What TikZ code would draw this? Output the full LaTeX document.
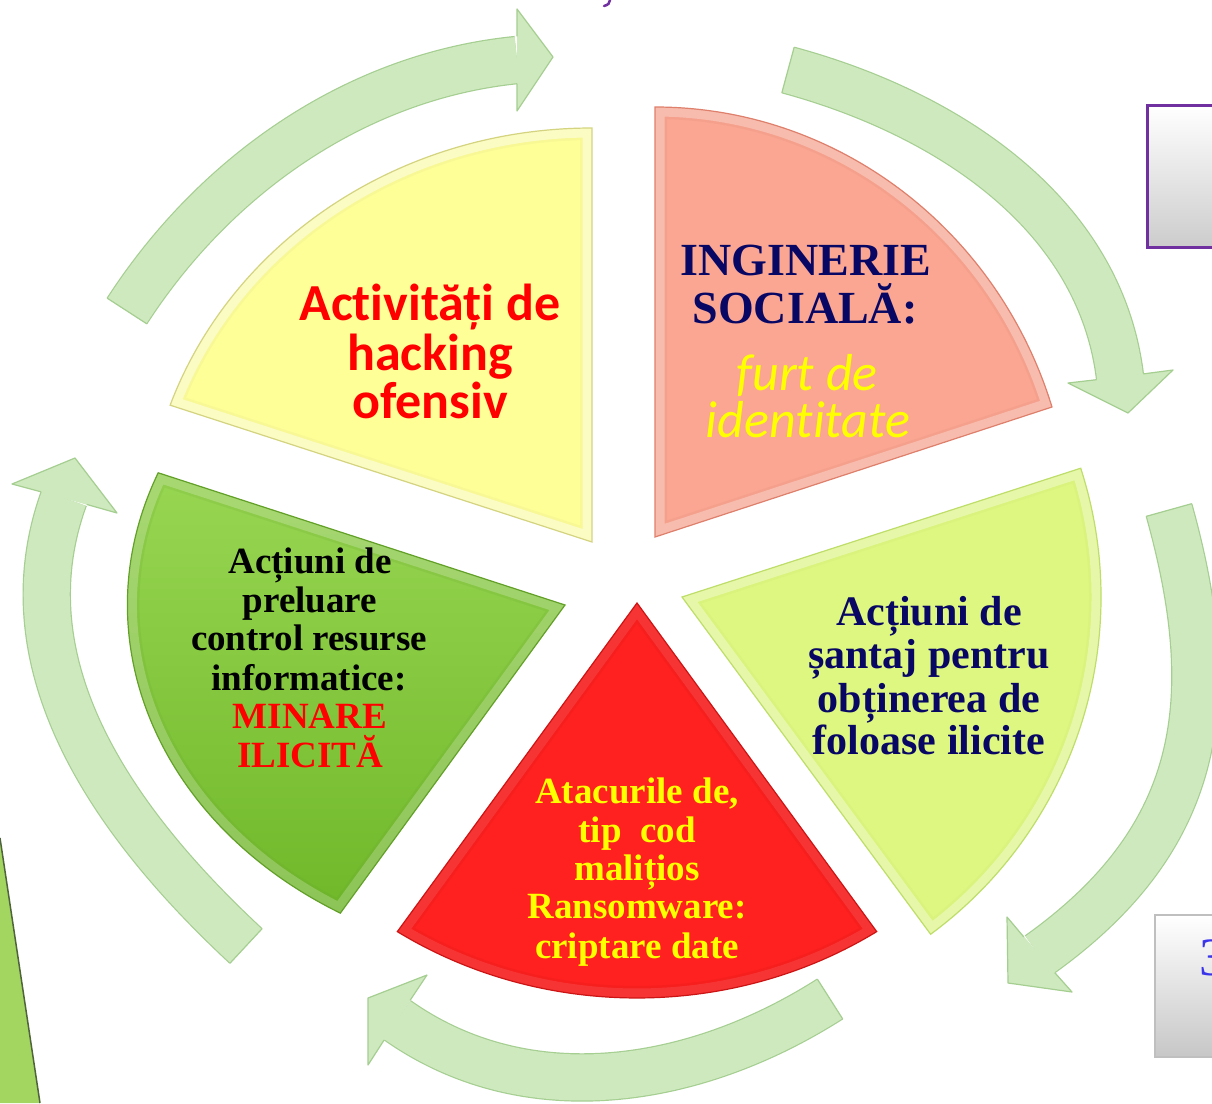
\documentclass[tikz,border=0pt]{standalone}
\usepackage{fontspec}
\usetikzlibrary{calc}
\newfontfamily\carl[Ligatures=NoCommon]{Carlito}
\newfontfamily\tnr{Liberation Serif}
\definecolor{arrfill}{RGB}{206,233,190}
\definecolor{arredge}{RGB}{165,206,145}
\definecolor{wyel}{RGB}{255,255,152}
\definecolor{wyelB}{RGB}{212,212,128}
\definecolor{wpink}{RGB}{250,166,146}
\definecolor{wpinkB}{RGB}{222,128,108}
\definecolor{wlime}{RGB}{222,247,128}
\definecolor{wlimeB}{RGB}{190,222,105}
\definecolor{wred}{RGB}{255,32,32}
\definecolor{wredB}{RGB}{205,20,20}
\definecolor{wgreenT}{RGB}{152,214,82}
\definecolor{wgreenB}{RGB}{112,184,42}
\definecolor{wgreenE}{RGB}{98,160,40}
\definecolor{navytxt}{RGB}{8,8,100}
\definecolor{redtxt}{RGB}{255,0,0}
\definecolor{yeltxt}{RGB}{255,255,0}
\definecolor{boxpurple}{RGB}{112,48,160}
\definecolor{digitblue}{RGB}{58,52,235}
\definecolor{sliver}{RGB}{162,214,96}
\definecolor{sliverE}{RGB}{80,100,60}
% #1 fill options, #2 border colour, #3 rim opacity, #4 path
\newcommand\drawwedge[4]{%
  \begin{scope}
    \clip #4;
    \path[#1] #4;
    \draw[#2, opacity=0.15, line width=24] #4;
    \draw[white, opacity=#3, line width=19] #4;
  \end{scope}
  \draw[#2, line width=1.2] #4;}
\newcommand\fYel{\carl\bfseries\fontsize{52}{52}\selectfont}
\newcommand\fSoc{\tnr\bfseries\fontsize{46}{46}\selectfont}
\newcommand\fFurt{\carl\itshape\fontsize{52}{52}\selectfont}
\newcommand\fRight{\tnr\bfseries\fontsize{42}{42}\selectfont}
\newcommand\fSmall{\tnr\bfseries\fontsize{37}{37}\selectfont}
\begin{document}
\begin{tikzpicture}[x=1pt,y=1pt,
  arrowband/.style={draw=arredge, line width=1.2, double=arrfill, double distance=46},
  headline/.style={draw=arredge, line width=1.2, line join=round},
  txt/.style={anchor=base, inner sep=0, outer sep=0}]
\useasboundingbox (0,0) rectangle (1212,-1103);
\clip (0,0) rectangle (1212,-1103);
\fill[white] (0,0) rectangle (1212,-1103);

% ---------- circular arrows ----------
% arrow 1 (top left, pointing right)
\coordinate (a1s) at (127,-311);
\coordinate (a1b) at (517,-60);
\coordinate (a1p) at (517,-9);
\coordinate (a1q) at (517,-111);
\coordinate (a1t) at (553,-57);
\draw[arrowband] (a1s) .. controls (215,-175) and (356,-76) .. (a1b);
\fill[arrfill] (a1p) -- (a1t) -- (a1q) -- cycle;
\draw[headline] ($(a1b)!23.6pt!(a1p)$) -- (a1p) -- (a1t) -- (a1q) -- ($(a1b)!23.6pt!(a1q)$);
\draw[headline] ($(a1s)!23.6pt!90:(215,-175)$) -- ($(a1s)!23.6pt!-90:(215,-175)$);
% arrow 2 (top right, pointing down)
\coordinate (a2s) at (788,-70);
\coordinate (a2b) at (1120,-377);
\coordinate (a2p) at (1068,-383);
\coordinate (a2q) at (1173,-370);
\coordinate (a2t) at (1128,-413);
\draw[arrowband] (a2s) .. controls (947,-113) and (1100,-213) .. (a2b);
\fill[arrfill] (a2p) -- (a2t) -- (a2q) -- cycle;
\draw[headline] ($(a2b)!23.6pt!(a2p)$) -- (a2p) -- (a2t) -- (a2q) -- ($(a2b)!23.6pt!(a2q)$);
\draw[headline] ($(a2s)!23.6pt!90:(947,-113)$) -- ($(a2s)!23.6pt!-90:(947,-113)$);
% arrow 3 (right, pointing down-left)
\coordinate (a3s) at (1169,-510);
\coordinate (a3b) at (1039,-955);
\coordinate (a3p) at (1007,-917);
\coordinate (a3q) at (1072,-992);
\coordinate (a3t) at (1008,-983);
\draw[arrowband] (a3s) .. controls (1222,-700) and (1203,-838) .. (a3b);
\fill[arrfill] (a3p) -- (a3t) -- (a3q) -- cycle;
\draw[headline] ($(a3b)!23.6pt!(a3p)$) -- (a3p) -- (a3t) -- (a3q) -- ($(a3b)!23.6pt!(a3q)$);
\draw[headline] ($(a3s)!23.6pt!90:(1222,-700)$) -- ($(a3s)!23.6pt!-90:(1222,-700)$);
% arrow 4 (bottom, pointing up-left)
\coordinate (a4s) at (830,-999);
\coordinate (a4b) at (397,-1020);
\coordinate (a4p) at (427,-975);
\coordinate (a4q) at (368,-1065);
\coordinate (a4t) at (368,-998);
\draw[arrowband] (a4s) .. controls (695,-1085) and (527,-1112) .. (a4b);
\fill[arrfill] (a4p) -- (a4t) -- (a4q) -- cycle;
\draw[headline] ($(a4b)!23.6pt!(a4p)$) -- (a4p) -- (a4t) -- (a4q) -- ($(a4b)!23.6pt!(a4q)$);
\draw[headline] ($(a4s)!23.6pt!90:(695,-1085)$) -- ($(a4s)!23.6pt!-90:(695,-1085)$);
% arrow 5 (left, pointing up)
\coordinate (a5s) at (246,-946);
\coordinate (a5b) at (64,-498);
\coordinate (a5p) at (12,-484);
\coordinate (a5q) at (117,-513);
\coordinate (a5t) at (75,-458);
\draw[arrowband] (a5s) .. controls (105,-815) and (5,-660) .. (a5b);
\fill[arrfill] (a5p) -- (a5t) -- (a5q) -- cycle;
\draw[headline] ($(a5b)!23.6pt!(a5p)$) -- (a5p) -- (a5t) -- (a5q) -- ($(a5b)!23.6pt!(a5q)$);
\draw[headline] ($(a5s)!23.6pt!90:(105,-815)$) -- ($(a5s)!23.6pt!-90:(105,-815)$);

% ---------- wedges ----------
\drawwedge{fill=wyel}{wyelB}{0.45}{(592,-542) -- (592,-128) arc[start angle=90, end angle=160.7, x radius=447, y radius=414] -- cycle}
\drawwedge{fill=wpink}{wpinkB}{0.30}{(655,-537) -- (655,-107) arc[start angle=90, end angle=17.6, x radius=416.5, y radius=430] -- cycle}
\drawwedge{fill=wlime}{wlimeB}{0.35}{(682,-597) -- ++(17.9:419) arc[start angle=17.9, end angle=-53.6, radius=419] -- cycle}
\drawwedge{fill=wred}{wredB}{0.10}{(637,-603) -- ++(239.7,-328.6) arc[start angle=-56.3, end angle=-123.7, x radius=432, y radius=395] -- cycle}
\drawwedge{top color=wgreenT, bottom color=wgreenB}{wgreenE}{0.22}{(565,-605) -- ++(-406.8,132.2) arc[start angle=158.4, end angle=239.1, x radius=437.6, y radius=359.1] -- cycle}

% ---------- side fragments ----------
\node[anchor=north west, inner sep=0, minimum width=100, minimum height=142, top color=white, bottom color=black!20, draw=boxpurple, line width=3] (boxtop) at (1146,-104) {};
\node[anchor=north west, inner sep=0, minimum width=100, minimum height=142, top color=white, bottom color=black!22, draw=black!25, line width=2] (boxbot) at (1154,-914) {};
\node[txt, anchor=base west, text=digitblue, font=\tnr\fontsize{54}{54}\selectfont] (digit) at (1199,-975) {3};
\fill[sliver] (0,-838) -- (40,-1103) -- (0,-1103) -- cycle;
\draw[sliverE, line width=1.5] (0,-838) -- (40,-1103);
\draw[boxpurple, line width=2.5, line cap=round] (610,0) .. controls (610,-3) and (608,-5) .. (604,-6);

% ---------- texts ----------
\node[txt, text=redtxt, font=\fYel] (y1) at (430,-320) {Activități de};
\node[txt, text=redtxt, font=\fYel] (y2) at (430,-370) {hacking};
\node[txt, text=redtxt, font=\fYel] (y3) at (430,-418) {ofensiv};

\node[txt, text=navytxt, font=\fSoc] (p1) at (806,-275) {INGINERIE};
\node[txt, text=navytxt, font=\fSoc] (p2) at (805,-323) {SOCIALĂ:};
\node[txt, text=yeltxt, font=\fFurt] (p3) at (807,-390) {furt de};
\node[txt, text=yeltxt, font=\fFurt] (p4) at (808,-437) {identitate};

\node[txt, text=navytxt, font=\fRight] (r1) at (929,-625) {Acțiuni de};
\node[txt, text=navytxt, font=\fRight] (r2) at (929,-668) {șantaj pentru};
\node[txt, text=navytxt, font=\fRight] (r3) at (929,-712) {obținerea de};
\node[txt, text=navytxt, font=\fRight] (r4) at (929,-754) {foloase ilicite};

\node[txt, text=yeltxt, font=\fSmall] (d1) at (637,-803) {Atacurile de,};
\node[txt, text=yeltxt, font=\fSmall] (d2) at (637,-842) {tip~~cod};
\node[txt, text=yeltxt, font=\fSmall] (d3) at (637,-880) {malițios};
\node[txt, text=yeltxt, font=\fSmall] (d4) at (637,-918) {Ransomware:};
\node[txt, text=yeltxt, font=\fSmall] (d5) at (637,-958) {criptare date};

\node[txt, text=black, font=\fSmall] (g1) at (310,-573) {Acțiuni de};
\node[txt, text=black, font=\fSmall] (g2) at (310,-612) {preluare};
\node[txt, text=black, font=\fSmall] (g3) at (309,-650) {control resurse};
\node[txt, text=black, font=\fSmall] (g4) at (309,-690) {informatice:};
\node[txt, text=redtxt, font=\fSmall] (g5) at (310,-728) {MINARE};
\node[txt, text=redtxt, font=\fSmall] (g6) at (310,-767) {ILICITĂ};
\end{tikzpicture}
\end{document}
